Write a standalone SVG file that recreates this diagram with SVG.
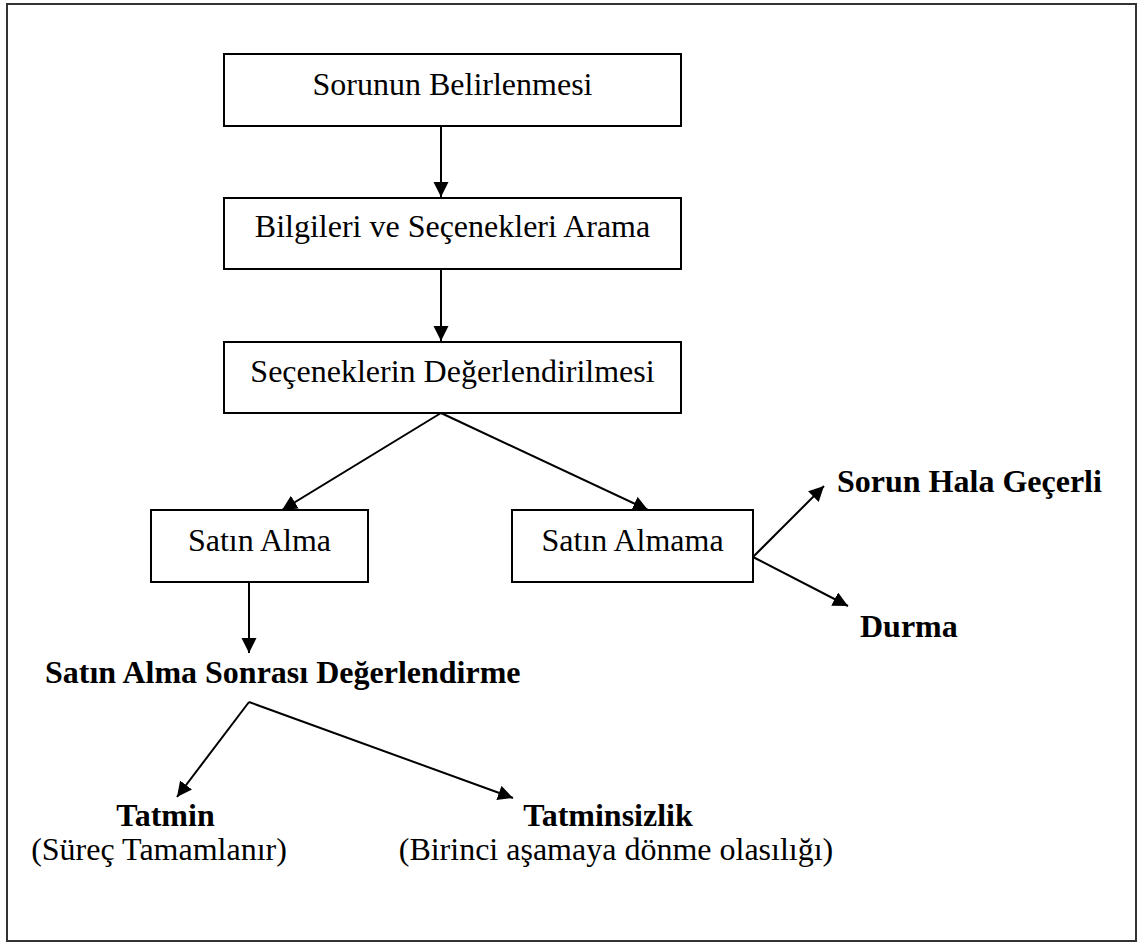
<svg xmlns="http://www.w3.org/2000/svg" width="1138" height="943" viewBox="0 0 1138 943">
  <style>
    .frame { fill: #ffffff; stroke: #333333; stroke-width: 2; }
    .box { fill: #ffffff; stroke: #000000; stroke-width: 2; }
    .lbl { font-family: "Liberation Serif", "Times New Roman", serif; font-size: 32px; fill: #000000; }
    .bold { font-weight: bold; }
    .mid { text-anchor: middle; }
    .conn { stroke: #000000; stroke-width: 2; fill: none; marker-end: url(#arrow); }
  </style>
  <defs>
    <marker id="arrow" markerUnits="userSpaceOnUse" markerWidth="16" markerHeight="16" refX="15" refY="7.5" orient="auto">
      <path d="M0,0 L15,7.5 L0,15 Z" fill="#000000"/>
    </marker>
  </defs>

  <rect width="1138" height="943" fill="#ffffff"/>
  <rect class="frame" x="7" y="4" width="1129" height="937"/>

  <g id="connectors">
    <line class="conn" x1="441" y1="126" x2="441" y2="197"/>
    <line class="conn" x1="441" y1="269" x2="441" y2="341"/>
    <line class="conn" x1="441" y1="413" x2="282" y2="510"/>
    <line class="conn" x1="441" y1="413" x2="648" y2="510"/>
    <line class="conn" x1="249" y1="582" x2="249" y2="653"/>
    <line class="conn" x1="753" y1="557" x2="824" y2="486"/>
    <line class="conn" x1="753" y1="557" x2="848" y2="606"/>
    <line class="conn" x1="249" y1="702" x2="177" y2="797"/>
    <line class="conn" x1="249" y1="702" x2="513" y2="798"/>
  </g>

  <g id="node-sorunun-belirlenmesi">
    <rect class="box" x="224" y="54" width="457" height="72"/>
    <text class="lbl mid" x="452.5" y="95">Sorunun Belirlenmesi</text>
  </g>

  <g id="node-bilgileri-arama">
    <rect class="box" x="224" y="198" width="457" height="71"/>
    <text class="lbl mid" x="452.5" y="237">Bilgileri ve Seçenekleri Arama</text>
  </g>

  <g id="node-degerlendirme">
    <rect class="box" x="224" y="342" width="457" height="71"/>
    <text class="lbl mid" x="452.5" y="382">Seçeneklerin Değerlendirilmesi</text>
  </g>

  <g id="node-satin-alma">
    <rect class="box" x="151" y="510" width="217" height="72"/>
    <text class="lbl mid" x="259.5" y="551">Satın Alma</text>
  </g>

  <g id="node-satin-almama">
    <rect class="box" x="512" y="510" width="241" height="72"/>
    <text class="lbl mid" x="632.5" y="551">Satın Almama</text>
  </g>

  <g id="node-sorun-gecerli">
    <text class="lbl bold" x="837" y="492">Sorun Hala Geçerli</text>
  </g>

  <g id="node-durma">
    <text class="lbl bold" x="860" y="637">Durma</text>
  </g>

  <g id="node-sonrasi-degerlendirme">
    <text class="lbl bold" x="45" y="683">Satın Alma Sonrası Değerlendirme</text>
  </g>

  <g id="node-tatmin">
    <text class="lbl bold mid" x="165.5" y="826">Tatmin</text>
    <text class="lbl mid" x="159" y="860">(Süreç Tamamlanır)</text>
  </g>

  <g id="node-tatminsizlik">
    <text class="lbl bold mid" x="608" y="826">Tatminsizlik</text>
    <text class="lbl mid" x="616" y="860">(Birinci aşamaya dönme olasılığı)</text>
  </g>
</svg>
